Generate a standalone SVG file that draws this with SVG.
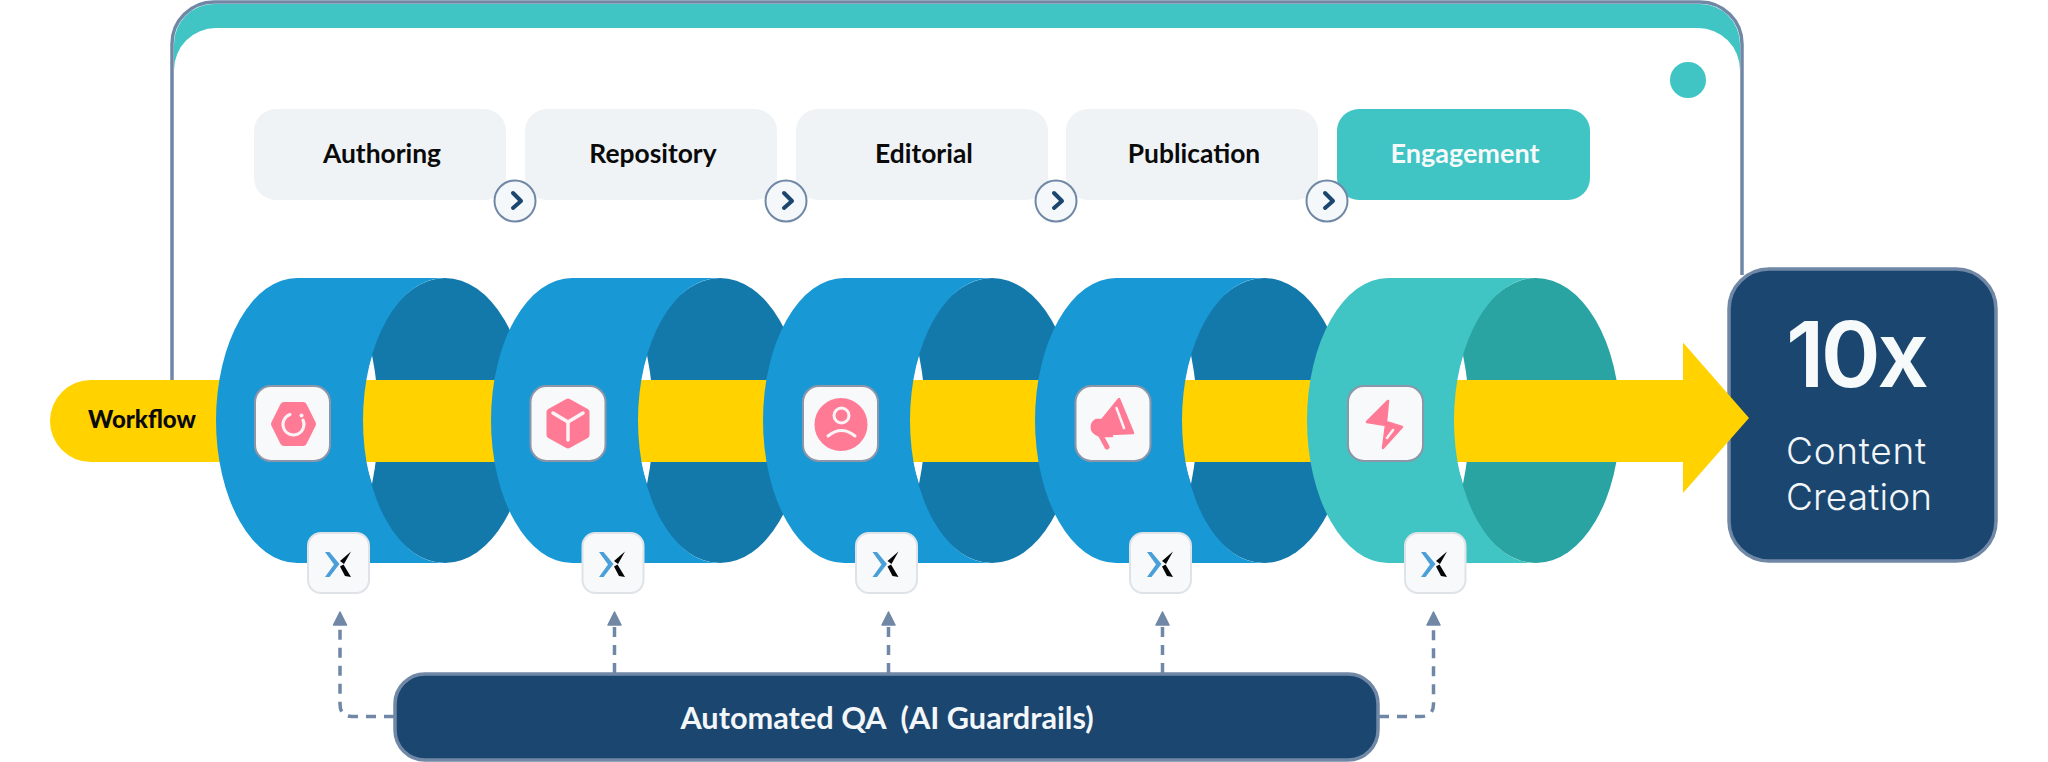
<svg xmlns="http://www.w3.org/2000/svg" width="2048" height="762" viewBox="0 0 2048 762">
<style>
text{font-family:Lato,"Noto Sans","Liberation Sans",sans-serif;text-anchor:middle;white-space:pre}
.lbl{font-size:26.400px;font-weight:700;fill:#0a0a0a}
.big{font-family:Inter,"Noto Sans",sans-serif;text-anchor:start}
.tab{fill:#eff3f6}
.btn{fill:#f5f8fa;stroke:#7088a6;stroke-width:2}
.chev{fill:none;stroke:#1b4670;stroke-width:4;stroke-linecap:round;stroke-linejoin:round}
.band{fill:#1998d6}.dark{fill:#1379ab}.hole{fill:#fff}.yellow{fill:#ffd200}
.ibox{fill:#f7f9fa;stroke:#8c96a8;stroke-width:2}
.xbox{fill:#f7f9fa;stroke:#dfe3e7;stroke-width:2}
.pink{fill:#ff7a95}
.wl{fill:none;stroke:#fbf4f6;stroke-linecap:round;stroke-linejoin:round}
.navy{fill:#1b4670;stroke:#7088a6;stroke-width:3.500}
.dash{fill:none;stroke:#7088a6;stroke-width:3.500;stroke-dasharray:10 8}
</style>
<defs>
<marker id="ah" markerUnits="userSpaceOnUse" markerWidth="18" markerHeight="16" refX="2" refY="8" orient="auto">
<path d="M1,1.500 L14,8 L1,14.500 Z" fill="#7088a6" stroke="#7088a6" stroke-width="1.500" stroke-linejoin="round"/>
</marker>
<g id="xlogo">
<path d="M-14,-11 H-9.500 L0.500,1 L-9.500,14 H-14 L-5,1.500 Z" fill="#4a9fd8"/>
<path d="M12,-11.500 L1,-2 L5,1 Z M12,14 L6,13 L1,3.500 L4.500,1.500 Z" fill="#050505"/>
</g>
</defs>

<g id="window">
<path d="M172,382 V44 A42,42 0 0 1 214,2 H1700 A42,42 0 0 1 1742,44 V275" fill="#fff" stroke="#7088a6" stroke-width="3.500"/>
<path d="M174,70 V44 A40,40 0 0 1 214,4 H1700 A40,40 0 0 1 1740,44 V70 A42,42 0 0 0 1698,28 H216 A42,42 0 0 0 174,70 Z" fill="#40c4c4"/>
<circle cx="1688" cy="80" r="18" fill="#40c4c4"/>
</g>

<g id="tab-authoring"><rect class="tab" x="254" y="109" width="252" height="91" rx="22"/><text class="lbl" x="382" y="163">Authoring</text></g>
<g id="tab-repository"><rect class="tab" x="525" y="109" width="252" height="91" rx="22"/><text class="lbl" x="653" y="163">Repository</text></g>
<g id="tab-editorial"><rect class="tab" x="796" y="109" width="252" height="91" rx="22"/><text class="lbl" x="924" y="163">Editorial</text></g>
<g id="tab-publication"><rect class="tab" x="1066" y="109" width="252" height="91" rx="22"/><text class="lbl" x="1194" y="163">Publication</text></g>
<g id="tab-engagement"><rect x="1337" y="109" width="253" height="91" rx="22" fill="#40c4c4"/><text class="lbl" x="1465" y="163" textLength="149" lengthAdjust="spacingAndGlyphs" style="fill:#f7fafa">Engagement</text></g>

<g id="next-1"><circle class="btn" cx="515" cy="201" r="20.500"/><path class="chev" d="M513,193 L521,201 L513,208"/></g>
<g id="next-2"><circle class="btn" cx="786" cy="201" r="20.500"/><path class="chev" d="M784,193 L792,201 L784,208"/></g>
<g id="next-3"><circle class="btn" cx="1056" cy="201" r="20.500"/><path class="chev" d="M1054,193 L1062,201 L1054,208"/></g>
<g id="next-4"><circle class="btn" cx="1327" cy="201" r="20.500"/><path class="chev" d="M1325,193 L1333,201 L1325,208"/></g>

<g id="result">
<rect class="navy" x="1729" y="269" width="267" height="292" rx="40"/>
<text class="big" x="1786" y="387" font-size="91" font-weight="600" textLength="143" fill="#f7fafa">10x</text>
<text class="big" x="1786" y="464" font-size="37" font-weight="300" textLength="140" fill="#f2f6f8">Content</text>
<text class="big" x="1786" y="510" font-size="37" font-weight="300" textLength="146" fill="#f2f6f8">Creation</text>
</g>

<g id="workflow">
<path class="yellow" d="M260,380 H91 A41,41 0 0 0 91,462 H260 Z"/>
<text class="lbl" x="142" y="428" style="font-size:24px;font-weight:900">Workflow</text>
</g>

<g id="stage-authoring">
<ellipse class="dark" cx="445" cy="420.500" rx="84" ry="142.500"/>
<path class="hole" d="M372,355 Q385,420 372,484 Q350,420 372,355 Z"/>
<rect class="yellow" x="330" y="380" width="250" height="82"/>
<path class="band" d="M297,278 H444 A81,142.500 0 0 0 444,563 H297 A81,142.500 0 0 1 297,278 Z"/>
<rect class="ibox" x="255" y="386" width="75" height="75" rx="16"/>
<path class="pink" stroke="#ff7a95" stroke-width="8" stroke-linejoin="round" d="M275,424 L284,406 H303 L312,424 L303,442 H284 Z"/>
<path class="wl" stroke-width="3" d="M303,420 A10.500,10.500 0 1 1 290,414.500"/>
<circle cx="301.500" cy="415.500" r="2" fill="#fbf4f6"/>
<rect class="xbox" x="308" y="533" width="61" height="60" rx="13"/>
<use href="#xlogo" x="339" y="563"/>
</g>

<g id="stage-repository">
<g transform="translate(275 0)">
<ellipse class="dark" cx="445" cy="420.500" rx="84" ry="142.500"/>
<path class="hole" d="M372,355 Q385,420 372,484 Q350,420 372,355 Z"/>
<rect class="yellow" x="330" y="380" width="250" height="82"/>
<path class="band" d="M297,278 H444 A81,142.500 0 0 0 444,563 H297 A81,142.500 0 0 1 297,278 Z"/>
</g>
<rect class="ibox" x="530.500" y="386" width="75" height="75" rx="16"/>
<path class="pink" stroke="#ff7a95" stroke-width="7" stroke-linejoin="round" d="M568,402 L586,412 V435 L568,445 L550,435 V412 Z"/>
<path class="wl" stroke-width="3.500" d="M553,413 L568,422 L583,413 M568,422 V440"/>
<rect class="xbox" x="582.500" y="533" width="61" height="60" rx="13"/>
<use href="#xlogo" x="613" y="563"/>
</g>

<g id="stage-editorial">
<g transform="translate(547 0)">
<ellipse class="dark" cx="445" cy="420.500" rx="84" ry="142.500"/>
<path class="hole" d="M372,355 Q385,420 372,484 Q350,420 372,355 Z"/>
<rect class="yellow" x="330" y="380" width="250" height="82"/>
<path class="band" d="M297,278 H444 A81,142.500 0 0 0 444,563 H297 A81,142.500 0 0 1 297,278 Z"/>
</g>
<rect class="ibox" x="803" y="386" width="75" height="75" rx="16"/>
<circle class="pink" cx="841" cy="424.500" r="26.500"/>
<circle class="wl" stroke-width="3" cx="841.500" cy="415.500" r="7.500"/>
<path class="wl" stroke-width="3" d="M828,436 Q841.500,425 855,436"/>
<rect class="xbox" x="856" y="533" width="61" height="60" rx="13"/>
<use href="#xlogo" x="886.500" y="563"/>
</g>

<g id="stage-publication">
<g transform="translate(819 0)">
<ellipse class="dark" cx="445" cy="420.500" rx="84" ry="142.500"/>
<path class="hole" d="M372,355 Q385,420 372,484 Q350,420 372,355 Z"/>
<rect class="yellow" x="330" y="380" width="250" height="82"/>
<path class="band" d="M297,278 H444 A81,142.500 0 0 0 444,563 H297 A81,142.500 0 0 1 297,278 Z"/>
</g>
<rect class="ibox" x="1075.500" y="386" width="75" height="75" rx="16"/>
<path class="pink" stroke="#ff7a95" stroke-width="2.500" stroke-linejoin="round" d="M1119,399 L1133,433 L1110,434 L1112,436 L1101,436 L1096,434 A8,8 0 0 1 1096,420 L1102,420 Z"/>
<path class="pink" stroke="#ff7a95" stroke-width="5" stroke-linecap="round" d="M1100,434 L1107,447"/>
<path class="wl" stroke-width="2.500" d="M1116.500,408 L1124,428"/>
<rect class="xbox" x="1130" y="533" width="61" height="60" rx="13"/>
<use href="#xlogo" x="1161" y="563"/>
</g>

<g id="stage-engagement">
<ellipse cx="1536" cy="420.500" rx="84" ry="142.500" fill="#2aa3a3"/>
<path class="hole" d="M1463,355 Q1476,420 1463,484 Q1441,420 1463,355 Z"/>
<path class="yellow" d="M1420,380 H1683 V342.500 L1749,418 L1683,493 V462 H1420 Z"/>
<path fill="#40c4c4" d="M1388,278 H1535 A81,142.500 0 0 0 1535,563 H1388 A81,142.500 0 0 1 1388,278 Z"/>
<rect class="ibox" x="1348" y="386" width="75" height="75" rx="16"/>
<path class="pink" stroke="#ff7a95" stroke-width="2.500" stroke-linejoin="round" d="M1388,401 L1386,422 L1402,427 L1383,448 L1386,425 L1367,422 Z"/>
<path class="wl" stroke-width="2.500" d="M1393,430 L1387,438"/>
<rect class="xbox" x="1405" y="533" width="60.500" height="60" rx="13"/>
<use href="#xlogo" x="1435" y="563"/>
</g>

<g id="connectors">
<path class="dash" marker-end="url(#ah)" d="M394,716.500 H352 Q340,716.500 340,704 V624"/>
<path class="dash" marker-end="url(#ah)" d="M614.500,673 V624"/>
<path class="dash" marker-end="url(#ah)" d="M888.500,673 V624"/>
<path class="dash" marker-end="url(#ah)" d="M1162.500,673 V624"/>
<path class="dash" marker-end="url(#ah)" d="M1379,716.500 H1421 Q1433.500,716.500 1433.500,704 V624"/>
</g>

<g id="qa">
<rect class="navy" x="395" y="674" width="983" height="86" rx="30"/>
<text x="887" y="729" font-size="30.700" font-weight="700" fill="#f4f7f9">Automated QA  (AI Guardrails)</text>
</g>
</svg>
